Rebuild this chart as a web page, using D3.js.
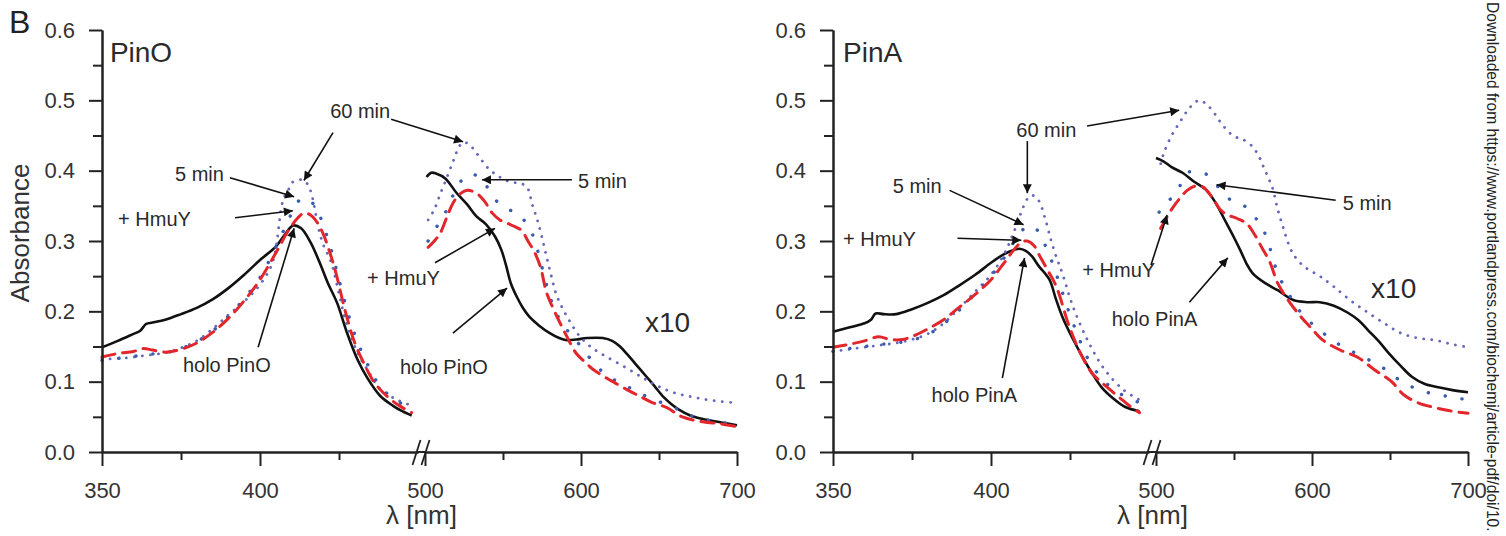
<!DOCTYPE html>
<html>
<head>
<meta charset="utf-8">
<script src="https://cdn.jsdelivr.net/npm/d3@7"></script>
<style>
  body { margin: 0; background: #fff; }
  svg { display: block; font-family: "Liberation Sans", Arial, sans-serif; }
</style>
</head>
<body>
<svg id="chart" width="1506" height="536"></svg>
<script>
// wavelength [nm], absorbance (visible region already x10 in the figure)
var pinoHolo = [
	[350,0.149],[355,0.158],[360,0.168],[362,0.172],[364,0.182],[366,0.184],[370,0.188],[375,0.196],[380,0.205],
	[385,0.217],[390,0.233],[395,0.252],[400,0.273],[405,0.292],[408,0.31],[410.5,0.322],[413,0.318],[416,0.298],
	[419,0.268],[421.5,0.24],[424.4,0.212],[427.5,0.17],[431,0.13],[434,0.105],[438,0.08],[442,0.066],[445,0.058],[448,0.052],
	[501,0.391],[504,0.397],[507,0.396],[513,0.389],[520,0.369],[527,0.352],[533,0.335],[539,0.324],[545,0.306],
	[549,0.287],[552,0.265],[555,0.24],[559,0.22],[563,0.204],[567,0.192],[573,0.18],[580,0.169],[586,0.162],
	[591,0.159],[597,0.16],[604,0.162],[614,0.162],[620,0.158],[625,0.15],[630,0.138],[635,0.125],[642,0.107],
	[647,0.094],[653,0.078],[658,0.068],[663,0.06],[670,0.052],[678,0.047],[690,0.042],[700,0.038]
];
var pinoHmuY = [
	[350,0.135],[355,0.14],[360,0.143],[363,0.147],[366,0.145],[370,0.142],[375,0.146],[380,0.155],[385,0.17],
	[390,0.19],[395,0.215],[400,0.245],[405,0.283],[409,0.315],[412,0.333],[414,0.34],[416,0.337],[418,0.327],
	[420,0.31],[422,0.285],[424,0.255],[427,0.2],[430,0.155],[433,0.125],[436,0.1],[440,0.08],[444,0.066],[448,0.056],
	[502,0.291],[506,0.3],[510,0.312],[514,0.334],[518,0.354],[522,0.366],[527,0.372],[533,0.368],[538,0.357],
	[543,0.34],[548,0.33],[553,0.325],[558,0.32],[562,0.315],[566,0.3],[570,0.285],[574,0.263],[578,0.226],
	[582,0.205],[586,0.186],[591,0.164],[597,0.14],[603,0.127],[608,0.117],[615,0.107],[622,0.098],[630,0.088],
	[637,0.08],[645,0.071],[655,0.063],[665,0.05],[678,0.043],[690,0.04],[700,0.036]
];
var pino5min = [
	[350,0.13],[355,0.133],[360,0.136],[365,0.139],[370,0.141],[375,0.147],[380,0.157],[385,0.172],[390,0.193],
	[395,0.218],[400,0.248],[404,0.282],[408,0.32],[411,0.348],[413,0.36],[415,0.36],[417,0.352],[419,0.335],
	[421,0.31],[423,0.28],[425,0.245],[428,0.195],[431,0.155],[434,0.125],[437,0.1],[441,0.08],[445,0.068],[448,0.06],
	[502,0.3],[508,0.322],[513,0.34],[518,0.365],[523,0.385],[528,0.395],[533,0.393],[538,0.383],[543,0.365],
	[548,0.352],[553,0.345],[559,0.34],[564,0.328],[569,0.309],[573,0.28],[577,0.245],[581,0.215],[586,0.19],
	[593,0.168],[600,0.15],[610,0.122],[618,0.107],[627,0.096],[635,0.087],[645,0.076],[659,0.064],[670,0.052],
	[680,0.046],[690,0.042],[700,0.04]
];
var pino60min = [
	[350,0.132],[355,0.133],[360,0.135],[365,0.138],[370,0.141],[375,0.148],[380,0.158],[385,0.175],[390,0.195],
	[395,0.214],[400,0.238],[404,0.27],[407.3,0.358],[409,0.373],[410.4,0.384],[413.3,0.387],[415.2,0.38],
	[416.5,0.363],[417.4,0.344],[418.4,0.32],[420,0.295],[422.5,0.27],[425,0.225],[427.5,0.18],[431,0.14],
	[434,0.117],[438,0.09],[443,0.075],[448,0.066],
	[502,0.33],[506,0.345],[510,0.368],[514,0.39],[518,0.413],[521,0.43],[524,0.44],[528,0.438],[533,0.425],
	[538,0.41],[542,0.4],[546,0.394],[550,0.388],[555,0.384],[560,0.382],[565,0.378],[569,0.35],[572,0.33],
	[575,0.305],[578,0.277],[581,0.25],[584,0.225],[588,0.205],[593,0.185],[599,0.165],[606,0.15],[615,0.137],
	[628,0.121],[640,0.105],[649,0.094],[660,0.084],[672,0.078],[685,0.073],[700,0.07]
];

var pinaHolo = [
	[350,0.171],[355,0.177],[360,0.183],[362,0.188],[363.5,0.197],[366,0.196],[370,0.196],[375,0.203],[380,0.212],
	[385,0.223],[390,0.237],[395,0.252],[400,0.269],[404,0.281],[407,0.287],[409,0.289],[411,0.286],[413,0.278],
	[415,0.265],[418.5,0.245],[420.5,0.218],[422.6,0.192],[426,0.16],[429,0.135],[432,0.112],[435,0.092],
	[439,0.075],[442.5,0.064],[447,0.058],
	[500,0.418],[505,0.413],[510,0.405],[517,0.397],[524,0.385],[532,0.373],[538,0.355],[545,0.326],[550,0.305],
	[554,0.287],[558,0.268],[562,0.254],[570,0.24],[578,0.23],[588,0.216],[597,0.213],[605,0.213],[614,0.208],
	[623,0.198],[630,0.187],[636,0.173],[643,0.157],[649,0.141],[657,0.122],[664,0.107],[672,0.097],[681,0.092],
	[690,0.088],[700,0.085]
];
var pinaHmuY = [
	[350,0.149],[355,0.153],[360,0.158],[364.5,0.164],[368,0.16],[372,0.16],[376,0.166],[380,0.175],[385,0.188],
	[390,0.206],[395,0.224],[400,0.245],[404,0.268],[407,0.286],[409.5,0.298],[411.5,0.3],[413.5,0.294],
	[415.5,0.278],[418,0.258],[420.7,0.235],[424.8,0.178],[428.9,0.135],[432,0.112],[435.2,0.098],[440.5,0.078],
	[444,0.065],[447,0.056],
	[503,0.318],[506,0.33],[510,0.345],[515,0.36],[520,0.372],[525,0.378],[530,0.377],[536,0.362],[541,0.345],
	[545,0.338],[552,0.332],[558,0.325],[563,0.31],[568,0.29],[573,0.27],[578,0.24],[585,0.215],[593,0.192],
	[600,0.175],[607,0.159],[618,0.145],[629,0.135],[640,0.117],[651,0.1],[659,0.081],[668,0.07],[679,0.063],
	[690,0.058],[700,0.055]
];
var pina5min = [
	[350,0.143],[355,0.147],[360,0.15],[365,0.153],[370,0.155],[375,0.159],[380,0.167],[385,0.182],[390,0.202],
	[395,0.225],[400,0.25],[404,0.275],[407,0.297],[409.5,0.313],[411.5,0.321],[413.5,0.32],[415.5,0.31],
	[417.5,0.29],[419.5,0.268],[422,0.235],[425,0.195],[428,0.16],[431,0.13],[435,0.105],[439,0.088],[443,0.078],
	[447,0.07],
	[502,0.341],[507,0.355],[513,0.368],[520,0.397],[527,0.398],[533,0.394],[538,0.382],[543,0.368],[550,0.355],
	[558,0.348],[563,0.335],[568,0.32],[573,0.29],[578,0.254],[585,0.225],[593,0.198],[605,0.173],[618,0.152],
	[633,0.135],[646,0.119],[659,0.098],[675,0.084],[690,0.078],[700,0.074]
];
var pina60min = [
	[350,0.143],[355,0.146],[360,0.149],[365,0.152],[370,0.155],[375,0.16],[380,0.168],[385,0.183],[390,0.205],
	[395,0.228],[400,0.252],[404,0.28],[407,0.31],[409.5,0.34],[411.5,0.36],[413,0.365],[415,0.358],[417,0.334],
	[419,0.301],[421,0.273],[422.5,0.255],[426,0.206],[431,0.155],[436,0.117],[442,0.088],[447,0.074],
	[503,0.41],[505,0.425],[510,0.45],[515,0.468],[520,0.485],[525,0.497],[528,0.5],[532,0.495],[536,0.486],
	[541,0.47],[547,0.454],[552,0.447],[556,0.444],[562,0.434],[566,0.42],[569,0.405],[572,0.39],[575,0.373],
	[578,0.345],[582,0.316],[586,0.29],[590,0.275],[596,0.262],[605,0.25],[614,0.235],[625,0.215],[636,0.198],
	[647,0.182],[657,0.169],[668,0.162],[679,0.159],[690,0.153],[700,0.149]
];

var yMajor = [0, 0.1, 0.2, 0.3, 0.4, 0.5, 0.6];
var yMinor = [0.05, 0.15, 0.25, 0.35, 0.45, 0.55];
var uvMajor = [350, 400], uvMinor = [375, 425];
var visMajor = [500, 600, 700], visMinor = [550, 650];

// notes: [segment, nm, absorbance]
var pinoNotes = [
	{text: 'PinO', kind: 'title', at: [1, 352.5, 0.555]},
	{text: '60 min', at: [1, 422.2, 0.475]},
	{text: '5 min', at: [1, 373.1, 0.385]},
	{text: '+ HmuY', at: [1, 355.1, 0.321]},
	{text: 'holo PinO', at: [1, 375.6, 0.114]},
	{text: '5 min', at: [2, 598.1, 0.375]},
	{text: '+ HmuY', at: [1, 433.9, 0.237]},
	{text: 'holo PinO', at: [1, 444.3, 0.111]},
	{text: 'x10', kind: 'mag', at: [2, 641.0, 0.171]}
];
var pinoArrows = [
	[[1, 423.1, 0.454], [1, 413.9, 0.386]],
	[[1, 441.5, 0.473], [2, 524.4, 0.441]],
	[[1, 390.5, 0.390], [1, 410.8, 0.363]],
	[[2, 594.2, 0.387], [2, 536.5, 0.387]],
	[[1, 392.1, 0.333], [1, 410.4, 0.343]],
	[[2, 506.4, 0.269], [2, 544.9, 0.318]],
	[[1, 399.4, 0.149], [1, 410.8, 0.318]],
	[[2, 517.9, 0.169], [2, 552.6, 0.233]]
];
var pinaNotes = [
	{text: 'PinA', kind: 'title', at: [1, 353.2, 0.555]},
	{text: '60 min', at: [1, 408.0, 0.448]},
	{text: '5 min', at: [1, 368.9, 0.368]},
	{text: '+ HmuY', at: [1, 353.2, 0.293]},
	{text: 'holo PinA', at: [1, 381.2, 0.071]},
	{text: '5 min', at: [2, 619.7, 0.344]},
	{text: '+ HmuY', at: [1, 428.9, 0.249]},
	{text: 'holo PinA', at: [1, 438.2, 0.179]},
	{text: 'x10', kind: 'mag', at: [2, 637.9, 0.219]}
];
var pinaArrows = [
	[[1, 411.5, 0.442], [1, 411.5, 0.368]],
	[[1, 430.4, 0.4635], [2, 514.9, 0.486]],
	[[1, 386.9, 0.372], [1, 410.3, 0.323]],
	[[1, 389.4, 0.304], [1, 409.6, 0.301]],
	[[2, 496.8, 0.266], [2, 507.1, 0.337]],
	[[2, 615.2, 0.358], [2, 538.8, 0.380]],
	[[1, 403.6, 0.105], [1, 410.6, 0.276]],
	[[2, 521.4, 0.213], [2, 546.0, 0.276]]
];

var styles = {
	holo: {color: '#111', width: 2.6, dash: null},
	hmuy: {color: '#e3262b', width: 3, dash: '13,8'},
	m5: {color: '#3a5cae', width: 3.4, dash: '0.1,17'},
	m60: {color: '#6468b8', width: 2.8, dash: '0.1,8'}
};

var panels = [
	{x0: 102, series: [[pinoHolo, 'holo'], [pino60min, 'm60'], [pino5min, 'm5'], [pinoHmuY, 'hmuy']], notes: pinoNotes, arrows: pinoArrows},
	{x0: 833, series: [[pinaHolo, 'holo'], [pina60min, 'm60'], [pina5min, 'm5'], [pinaHmuY, 'hmuy']], notes: pinaNotes, arrows: pinaArrows}
];

var svg = d3.select('#chart');
var ink = '#222';

svg.append('defs').append('marker')
	.attr('id', 'ah')
	.attr('viewBox', '0 0 10 10')
	.attr('refX', 10)
	.attr('refY', 5)
	.attr('markerWidth', 15)
	.attr('markerHeight', 9)
	.attr('markerUnits', 'userSpaceOnUse')
	.attr('orient', 'auto')
	.append('path')
	.attr('d', 'M0,0 L10,5 L0,10 z')
	.attr('fill', '#111');

var y = d3.scaleLinear().domain([0, 0.6]).range([452, 30]);

panels.forEach(function(p) {
	var x1 = d3.scaleLinear().domain([350, 450]).range([p.x0, p.x0 + 316]);
	var x2 = d3.scaleLinear().domain([500, 700]).range([p.x0 + 323, p.x0 + 635]);
	var g = svg.append('g');
	var pt = function(q) {
		return [(q[0] === 1 ? x1 : x2)(q[1]), y(q[2])];
	};

	// curves
	p.series.forEach(function(s) {
		var st = styles[s[1]];
		[[s[0].filter(function(d) { return d[0] < 475; }), x1],
		 [s[0].filter(function(d) { return d[0] >= 475; }), x2]].forEach(function(part) {
			var line = d3.line()
				.x(function(d) { return part[1](d[0]); })
				.y(function(d) { return y(d[1]); })
				.curve(d3.curveCatmullRom.alpha(0.5));
			g.append('path')
				.attr('d', line(part[0]))
				.attr('fill', 'none')
				.attr('stroke', st.color)
				.attr('stroke-width', st.width)
				.attr('stroke-linecap', st.dash ? 'round' : 'butt')
				.attr('stroke-linejoin', 'round')
				.attr('stroke-dasharray', st.dash);
		});
	});

	// axes
	g.append('g').attr('transform', 'translate(' + p.x0 + ',0)')
		.call(d3.axisLeft(y).tickValues(yMajor).tickFormat(d3.format('.1f')).tickSize(13).tickSizeOuter(0).tickPadding(14));
	g.append('g').attr('transform', 'translate(' + p.x0 + ',0)')
		.call(d3.axisLeft(y).tickValues(yMinor).tickFormat('').tickSize(9).tickSizeOuter(0));

	g.append('g').attr('transform', 'translate(0,452)')
		.call(d3.axisBottom(x1).tickValues(uvMajor).tickFormat(d3.format('d')).tickSize(14).tickSizeOuter(0).tickPadding(16));
	g.append('g').attr('transform', 'translate(0,452)')
		.call(d3.axisBottom(x1).tickValues(uvMinor).tickFormat('').tickSize(8).tickSizeOuter(0));
	g.append('g').attr('transform', 'translate(0,452)')
		.call(d3.axisBottom(x2).tickValues(visMajor).tickFormat(d3.format('d')).tickSize(14).tickSizeOuter(0).tickPadding(16));
	g.append('g').attr('transform', 'translate(0,452)')
		.call(d3.axisBottom(x2).tickValues(visMinor).tickFormat('').tickSize(8).tickSizeOuter(0));

	g.append('line')
		.attr('x1', x1.range()[1]).attr('x2', x2.range()[0])
		.attr('y1', 452).attr('y2', 452)
		.attr('stroke', ink).attr('stroke-width', 2);

	g.selectAll('.domain').attr('stroke', ink).attr('stroke-width', 2);
	g.selectAll('.tick line').attr('stroke', ink).attr('stroke-width', 2);
	g.selectAll('.tick text').attr('fill', '#333').attr('font-size', 22).attr('font-family', '"Liberation Sans", Arial, sans-serif');

	// axis break
	var c = (x1.range()[1] + x2.range()[0]) / 2;
	[-5, 4].forEach(function(o) {
		g.append('line')
			.attr('x1', c + o - 4).attr('y1', 465)
			.attr('x2', c + o + 4).attr('y2', 440)
			.attr('stroke', ink).attr('stroke-width', 1.8);
	});

	g.append('text')
		.attr('x', c).attr('y', 524)
		.attr('text-anchor', 'middle')
		.attr('font-size', 26)
		.attr('fill', '#333')
		.text('\u03bb [nm]');

	// notes and arrows
	g.selectAll('text.note')
		.data(p.notes)
		.enter()
		.append('text')
		.attr('class', 'note')
		.attr('x', function(d) { return pt(d.at)[0]; })
		.attr('y', function(d) { return pt(d.at)[1]; })
		.attr('font-size', function(d) {
			return d.kind === 'title' ? 28 : (d.kind === 'mag' ? 28 : 20);
		})
		.attr('fill', '#2a2a2a')
		.text(function(d) { return d.text; });

	g.selectAll('line.arrow')
		.data(p.arrows)
		.enter()
		.append('line')
		.attr('class', 'arrow')
		.attr('x1', function(d) { return pt(d[0])[0]; })
		.attr('y1', function(d) { return pt(d[0])[1]; })
		.attr('x2', function(d) { return pt(d[1])[0]; })
		.attr('y2', function(d) { return pt(d[1])[1]; })
		.attr('stroke', '#111')
		.attr('stroke-width', 1.6)
		.attr('marker-end', 'url(#ah)');
});

svg.append('text')
	.attr('transform', 'translate(29,233) rotate(-90)')
	.attr('text-anchor', 'middle')
	.attr('font-size', 26)
	.attr('fill', '#333')
	.text('Absorbance');

svg.append('text')
	.attr('x', 9).attr('y', 33)
	.attr('font-size', 32)
	.attr('fill', '#222')
	.text('B');

svg.append('text')
	.attr('transform', 'translate(1487,2) rotate(90)')
	.attr('font-size', 15.6)
	.attr('fill', '#222')
	.text('Downloaded from https://www.portlandpress.com/biochemj/article-pdf/doi/10.');
</script>
</body>
</html>
